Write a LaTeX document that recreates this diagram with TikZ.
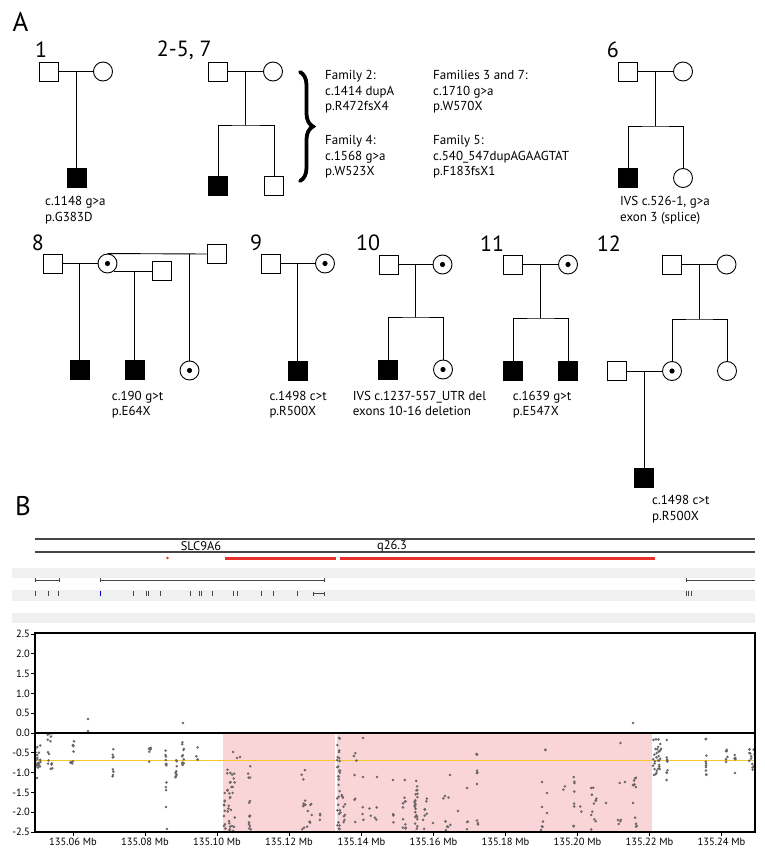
\documentclass[tikz,border=0pt]{standalone}
\usepackage{fontspec}
\setmainfont{PT Sans}
\usetikzlibrary{decorations.pathreplacing}
\definecolor{pinkbg}{RGB}{249,213,215}
\definecolor{dotc}{RGB}{108,102,104}
\definecolor{yel}{RGB}{247,198,40}
\definecolor{redbar}{RGB}{232,48,44}
\definecolor{band}{RGB}{240,240,240}
\definecolor{trk}{RGB}{70,70,70}
\begin{document}
\begin{tikzpicture}[x=1pt,y=-1pt,
  pl/.style={line width=0.9pt},
  sq/.style={draw, rectangle, minimum size=19pt, inner sep=0pt, line width=0.9pt, fill=white},
  aff/.style={sq, fill=black},
  ci/.style={draw, circle, minimum size=19pt, inner sep=0pt, line width=0.9pt, fill=white},
  car/.style={ci, path picture={\fill[black] (path picture bounding box.center) circle (2.6pt);}},
  lab/.style={font=\fontsize{13}{15}\selectfont, anchor=base west, inner sep=0pt},
  fam/.style={font=\fontsize{22}{24}\selectfont, anchor=base west, inner sep=0pt},
  panel/.style={font=\fontsize{27}{29}\selectfont, anchor=base west, inner sep=0pt},
  axl/.style={font=\fontsize{10.5}{12}\selectfont, inner sep=0pt},
  trkline/.style={draw=trk, line width=0.6pt},
  exon/.style={draw=trk, line width=0.9pt}
]
\useasboundingbox (0,0) rectangle (764,853);
\fill[white] (0,0) rectangle (764,853);

% ---------------- Panel A ----------------
\node[panel] (pA) at (12.5,32) {A};

% Family 1
\node[fam] (n1) at (35,57.3) {1};
\node[sq]  (f1) at (48.5,71.5) {};
\node[ci]  (m1) at (103,71.5) {};
\node[aff] (s1) at (76.7,178) {};
\draw[pl] (f1) -- (m1);
\draw[pl] (s1.north) -- (s1 |- f1);
\node[lab] (t1a) at (45,205) {c.1148 g>a};
\node[lab] (t1b) at (45,221) {p.G383D};

% Family 2-5, 7
\node[fam] (n2) at (156.7,56.7) {2-5, 7};
\node[sq]  (f2) at (218,71.5) {};
\node[ci]  (m2) at (273,71.5) {};
\node[aff] (a2) at (218,185.5) {};
\node[sq]  (b2) at (274,185.5) {};
\coordinate (j2) at (245.6,71.5);
\coordinate (sib2) at (245.6,125);
\draw[pl] (f2) -- (m2);
\draw[pl] (j2) -- (sib2);
\draw[pl] (a2.north) |- (sib2) -| (b2.north);
\draw[line width=3.8pt, line cap=round, decorate, decoration={brace, amplitude=13pt}] (300,72) -- (300,181);
\node[lab] (t2a) at (325,80) {Family 2:};
\node[lab] (t2b) at (325,95.3) {c.1414 dupA};
\node[lab] (t2c) at (325,110.5) {p.R472fsX4};
\node[lab] (t4a) at (325,145) {Family 4:};
\node[lab] (t4b) at (325,160.3) {c.1568 g>a};
\node[lab] (t4c) at (325,175.5) {p.W523X};
\node[lab] (t3a) at (433,80) {Families 3 and 7:};
\node[lab] (t3b) at (433,95.3) {c.1710 g>a};
\node[lab] (t3c) at (433,110.5) {p.W570X};
\node[lab] (t5a) at (433,145) {Family 5:};
\node[lab] (t5b) at (433,160.3) {c.540\_547dupAGAAGTAT};
\node[lab] (t5c) at (433,175.5) {p.F183fsX1};

% Family 6
\node[fam] (n6) at (606.7,58) {6};
\node[sq]  (f6) at (628,71.5) {};
\node[ci]  (m6) at (683,71.5) {};
\node[aff] (a6) at (628,178) {};
\node[ci]  (b6) at (683,178) {};
\coordinate (j6) at (655,71.5);
\coordinate (sib6) at (655,126);
\draw[pl] (f6) -- (m6);
\draw[pl] (j6) -- (sib6);
\draw[pl] (a6.north) |- (sib6) -| (b6.north);
\node[lab] (t6a) at (620,205) {IVS c.526-1, g>a};
\node[lab] (t6b) at (620,221) {exon 3 (splice)};

% Family 8
\node[fam] (n8) at (31.7,250) {8};
\node[sq]  (f8) at (52.5,263.5) {};
\node[car] (m8) at (107.5,263.5) {};
\node[sq]  (h8b) at (162,271) {};
\node[sq]  (h8c) at (216.5,254) {};
\node[aff] (c8a) at (79.5,370) {};
\node[aff] (c8b) at (134.7,370) {};
\node[car] (c8c) at (189.5,370.5) {};
\coordinate (j8a) at (79.5,263.5);
\coordinate (j8b) at (134.7,271);
\coordinate (j8c) at (189.5,254);
\draw[pl] (f8) -- (m8);
\draw[pl] (m8.-52) -- (m8.-52 -| h8b.west);
\draw[pl] (m8.north) -- (h8c.west);
\draw[pl] (j8a) -- (c8a.north);
\draw[pl] (j8b) -- (c8b.north);
\draw[pl] (j8c) -- (c8c.north);
\node[lab] (t8a) at (111.7,400) {c.190 g>t};
\node[lab] (t8b) at (111.7,415.5) {p.E64X};

% Family 9
\node[fam] (n9) at (250,250) {9};
\node[sq]  (f9) at (270.5,263.5) {};
\node[car] (m9) at (325,263.5) {};
\node[aff] (c9) at (297.7,370.5) {};
\draw[pl] (f9) -- (m9);
\draw[pl] (c9.north) -- (c9 |- f9);
\node[lab] (t9a) at (269.3,400) {c.1498 c>t};
\node[lab] (t9b) at (269.3,415.5) {p.R500X};

% Family 10
\node[fam] (n10) at (356,250) {10};
\node[sq]  (f10) at (389,264.5) {};
\node[car] (m10) at (442.5,264.5) {};
\node[aff] (a10) at (388,369.5) {};
\node[car] (b10) at (443,369.5) {};
\coordinate (j10) at (415.7,264.5);
\coordinate (sib10) at (415.7,317);
\draw[pl] (f10) -- (m10);
\draw[pl] (j10) -- (sib10);
\draw[pl] (a10.north) |- (sib10) -| (b10.north);
\node[lab] (t10a) at (352.7,400) {IVS c.1237-557\_UTR del};
\node[lab] (t10b) at (352.7,415.5) {exons 10-16 deletion};

% Family 11
\node[fam] (n11) at (480,251.5) {11};
\node[sq]  (f11) at (513,264.5) {};
\node[car] (m11) at (568,264.5) {};
\node[aff] (a11) at (513,371) {};
\node[aff] (b11) at (568,371) {};
\coordinate (j11) at (540.7,264.5);
\coordinate (sib11) at (540.7,318);
\draw[pl] (f11) -- (m11);
\draw[pl] (j11) -- (sib11);
\draw[pl] (a11.north) |- (sib11) -| (b11.north);
\node[lab] (t11a) at (512.7,400) {c.1639 g>t};
\node[lab] (t11b) at (512.7,415.5) {p.E547X};

% Family 12
\node[fam] (n12) at (596.7,251.5) {12};
\node[sq]  (f12) at (672,264.5) {};
\node[ci]  (m12) at (726.5,264.5) {};
\node[car] (d12) at (672,371) {};
\node[ci]  (e12) at (727,371) {};
\node[sq]  (h12) at (617,371) {};
\node[aff] (g12) at (644,478) {};
\coordinate (j12) at (699,264.5);
\coordinate (sib12) at (699,319);
\coordinate (k12) at (644,371);
\draw[pl] (f12) -- (m12);
\draw[pl] (j12) -- (sib12);
\draw[pl] (d12.north) |- (sib12) -| (e12.north);
\draw[pl] (h12) -- (d12);
\draw[pl] (k12) -- (g12.north);
\node[lab] (t12a) at (652,504) {c.1498 c>t};
\node[lab] (t12b) at (652,520) {p.R500X};

% ---------------- Panel B ----------------
\node[panel] (pB) at (15,515) {B};

% header tracks
\draw[draw=trk, line width=1.5pt] (35,539) -- (755,539);
\draw[draw=trk, line width=1.5pt] (35,552) -- (755,552);
\node[font=\fontsize{12.5}{14}\selectfont, inner sep=0pt] (gene) at (201,546) {SLC9A6};
\node[font=\fontsize{12.5}{14}\selectfont, inner sep=0pt] (band) at (392,546) {q26.3};
\fill[redbar] (167.5,558) circle (1.3pt);
\fill[redbar] (224.5,556.8) rectangle (336,559.5);
\fill[redbar] (340,556.8) rectangle (655,559.5);

\fill[band] (12,568) rectangle (755,578);
\fill[band] (12,590) rectangle (755,601);
\fill[band] (12,613) rectangle (755,623);

% gene models
\draw[trkline] (35,580) -- (59,580);
\draw[trkline] (35,578) -- (35,582) (59,578) -- (59,582);
\draw[trkline] (100,580) -- (324,580);
\draw[trkline] (100,578) -- (100,582) (324,578) -- (324,582);
\draw[trkline] (686,580) -- (755,580);
\draw[trkline] (686,578) -- (686,582);
\foreach \ex in {35,48,58,133,146,148.5,160,190,199,201.5,212,233,237,261,273,297,686,688.5,691}
  \draw[exon] (\ex,591) -- (\ex,596);
\draw[exon, draw=blue!70!black] (100,591) -- (100,596);
\draw[trkline] (313,593.5) -- (324,593.5) (313,591.5) -- (313,595.5) (324,591.5) -- (324,595.5);

% plot
\fill[pinkbg] (223.3,733) rectangle (334.5,832);
\fill[pinkbg] (337.3,733) rectangle (652.3,832);
\draw[yel, line width=1.1pt] (35,760.5) -- (755,760.5);

\pgfmathsetseed{12}
\begin{scope}
\clip (35,633) rectangle (755,832);
\foreach \cx/\sx/\ya/\yb/\n in {
  38/3/745/768/22, 37/0/778/778/1, 50/2.5/733/770/14, 72/2.5/740/765/10,
  113/0.5/748/760/4, 113/0.5/768/777/4, 150/1/745/762/7,
  166/0.5/745/768/7, 166/0.5/780/792/3, 166/0/807/807/1, 167/0/829/829/1,
  176/1/758/778/9, 183/1/738/768/12, 197/1/745/763/4,
  88/0/719/719/1, 88/0/731/731/1, 183/0/723/723/1, 633/0/723/723/1,
  224.5/1/790/832/10, 231/4/765/832/30, 233/0/752/752/1, 237/0/758/758/1, 240/0/757/757/1,
  250/2/765/778/4, 250/2/792/830/10,
  305/4/765/782/3, 307/5/800/830/14, 320/0.5/813/828/3,
  338.5/1.5/735/832/30, 343/3/790/832/10,
  355/1.5/750/762/3, 355/1/775/775/1, 355/1/797/802/2, 355/1/822/822/1,
  363/0/738/738/1, 363/0/777/777/1, 363/0.5/805/822/3,
  373/4/800/820/5, 377/0/777/777/1,
  393/0.5/780/780/1, 393/0.5/808/830/4, 403/0.5/795/830/4,
  405/0.5/780/780/1, 405/1/797/807/3, 405/1/822/830/3,
  416/1.5/777/832/25, 425/2/797/830/8, 433/0/823/823/1,
  447/5/795/800/3, 450/0/775/775/1, 447/5/820/832/5, 458/0/811/811/1,
  467.5/0.5/788/788/1, 467.5/0.5/818/830/3,
  477/0.5/752/758/2, 477/0.5/767/775/3, 477/0/784/784/1, 477/1/815/826/3,
  544/2/748/751/2, 542/0/782/782/1, 547/0/793/793/1, 542/0/807/807/1, 547/0/813/813/1, 542/1/818/830/4,
  564/2/780/790/2, 574/0.5/773/830/8, 581/1/806/820/2,
  594/3/785/830/12, 606/0/803/803/1,
  620/2/743/743/1, 620/1/783/783/1, 620/2/815/825/4, 625/0/782/782/1,
  635/2/775/793/7, 633/0/803/803/1, 636/1/817/830/4,
  657/4/738/775/30, 667/0.5/740/740/1, 667/0.5/757/782/8,
  706/0.5/737/740/2, 706/0.5/755/775/8, 726/1.5/745/767/6,
  735/0.5/753/763/4, 735/0/773/773/1, 752/3/747/772/12}{
  \foreach \i in {1,...,\n}{
    \pgfmathsetmacro{\px}{\cx+\sx*(2*rnd-1)}
    \pgfmathsetmacro{\py}{\ya+(\yb-\ya)*rnd}
    \fill[dotc] (\px,\py) circle (1.4pt);
  }
}
\end{scope}

\draw[line width=1.2pt] (35,633) rectangle (755,832);
\draw[line width=1.2pt] (35,733) -- (755,733);

\foreach \v/\yy [count=\k] in {2.5/634,2.0/653.8,1.5/673.6,1.0/693.4,0.5/713.2,0.0/733,-0.5/752.8,-1.0/772.6,-1.5/792.4,-2.0/812.2,-2.5/832}{
  \draw[line width=0.7pt] (31,\yy) -- (35,\yy);
  \node[axl, anchor=east] (yl\k) at (30,\yy) {\v};
}
\foreach \v/\xx in {06/73,08/145,10/217,12/289,14/361.5,16/433.5,18/505.5,20/577.5,22/649.5,24/721.5}{
  \draw[line width=0.7pt] (\xx,832) -- (\xx,836);
  \node[axl] (xl\v) at (\xx,842) {135.\v{} Mb};
}
\end{tikzpicture}
\end{document}
